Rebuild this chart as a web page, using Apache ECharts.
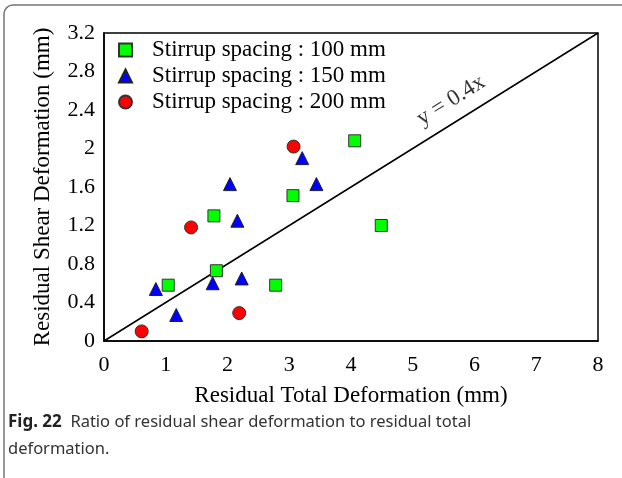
<!doctype html>
<html>
    <head>
        <meta charset="utf-8">
        <title>Residual shear vs total deformation</title>
        <style>
            html, body { margin: 0; padding: 0; background: #fff; }
            #main { width: 622px; height: 478px; }
        </style>
    </head>
    <body>
        <div id="main"></div>
        <script src="https://cdn.jsdelivr.net/npm/echarts@6/dist/echarts.min.js"></script>
        <script>
            var chart = echarts.init(document.getElementById('main'));

            // values: [total, shear] in mm
            var spacing100 = [
                [4.06, 2.08], [3.06, 1.51], [1.78, 1.30], [4.49, 1.20],
                [1.82, 0.73], [1.04, 0.58], [2.78, 0.58]
            ];
            var spacing150 = [
                [3.21, 1.90], [2.04, 1.63], [3.44, 1.63], [2.16, 1.25],
                [2.23, 0.65], [1.76, 0.60], [0.84, 0.54], [1.17, 0.27]
            ];
            var spacing200 = [
                [3.07, 2.02], [1.41, 1.18], [2.19, 0.29], [0.61, 0.10]
            ];
            var seriesNames = [
                'Stirrup spacing : 100 mm',
                'Stirrup spacing : 150 mm',
                'Stirrup spacing : 200 mm'
            ];
            var fitLine = [[0, 0], [8, 3.2]];
            var fitLabelAt = [[5.62, 2.5]];

            var serif = '"Liberation Serif", "DejaVu Serif", serif';
            var sans = '"Noto Sans", "Open Sans", sans-serif';

            chart.setOption({
                animation: false,
                backgroundColor: '#fff',
                grid: {
                    left: 104, top: 33, right: 24, bottom: 137,
                    show: true,
                    borderColor: '#000',
                    borderWidth: 1.5
                },
                legend: {
                    data: seriesNames,
                    orient: 'vertical',
                    left: 113,
                    top: 32,
                    itemWidth: 13,
                    itemHeight: 13,
                    itemGap: 0,
                    textStyle: {
                        fontFamily: serif,
                        fontSize: 23,
                        lineHeight: 26,
                        color: '#000',
                        padding: [0, 0, 0, 15]
                    }
                },
                xAxis: {
                    type: 'value',
                    min: 0, max: 8, interval: 1,
                    name: 'Residual Total Deformation (mm)',
                    nameLocation: 'middle',
                    nameGap: 43,
                    nameTextStyle: { fontFamily: serif, fontSize: 23, color: '#000' },
                    axisLine: { lineStyle: { color: '#000', width: 1.5 } },
                    axisTick: { show: false },
                    splitLine: { show: false },
                    axisLabel: { fontFamily: serif, fontSize: 22, color: '#000', margin: 13 }
                },
                yAxis: {
                    type: 'value',
                    min: 0, max: 3.2, interval: 0.4,
                    name: 'Residual Shear Deformation (mm)',
                    nameLocation: 'middle',
                    nameGap: 50,
                    nameTextStyle: { fontFamily: serif, fontSize: 23, color: '#000' },
                    axisLine: { lineStyle: { color: '#000', width: 1.5 } },
                    axisTick: { show: false },
                    splitLine: { show: false },
                    axisLabel: { fontFamily: serif, fontSize: 22, color: '#000', margin: 9 }
                },
                series: [
                    {
                        type: 'line',
                        data: fitLine,
                        showSymbol: false,
                        silent: true,
                        lineStyle: { color: '#000', width: 1.5 },
                        z: 1
                    },
                    {
                        type: 'scatter',
                        data: fitLabelAt,
                        symbolSize: 1,
                        itemStyle: { color: 'rgba(0,0,0,0)' },
                        silent: true,
                        label: {
                            show: true,
                            position: 'inside',
                            rotate: 32,
                            formatter: '{a|y = 0.4x}',
                            rich: {
                                a: { fontFamily: serif, fontSize: 23, color: '#000' }
                            }
                        },
                        z: 2
                    },
                    {
                        name: seriesNames[0],
                        type: 'scatter',
                        data: spacing100,
                        symbol: 'rect',
                        symbolSize: 12,
                        itemStyle: { color: '#00ff00', borderColor: '#333', borderWidth: 1, opacity: 1 },
                        z: 3
                    },
                    {
                        name: seriesNames[1],
                        type: 'scatter',
                        data: spacing150,
                        symbol: 'triangle',
                        symbolSize: 13,
                        itemStyle: { color: '#0000ff', borderColor: '#222', borderWidth: 1, opacity: 1 },
                        z: 3
                    },
                    {
                        name: seriesNames[2],
                        type: 'scatter',
                        data: spacing200,
                        symbol: 'circle',
                        symbolSize: 13,
                        itemStyle: { color: '#ff0000', borderColor: '#333', borderWidth: 1, opacity: 1 },
                        z: 3
                    }
                ],
                graphic: [
                    {
                        type: 'rect',
                        shape: { x: 4, y: 5, width: 720, height: 500, r: 9 },
                        style: { fill: 'none', stroke: '#777', lineWidth: 1.5 },
                        silent: true
                    },
                    {
                        type: 'text',
                        left: 8,
                        top: 409,
                        style: {
                            text: '{b|Fig. 22}  Ratio of residual shear deformation to residual total\ndeformation.',
                            fontFamily: sans,
                            fontSize: 16.5,
                            lineHeight: 27,
                            fill: '#333',
                            rich: {
                                b: {
                                    fontFamily: sans,
                                    fontSize: 17,
                                    fontWeight: 'bold',
                                    lineHeight: 27,
                                    fill: '#222'
                                }
                            }
                        }
                    }
                ]
            });

            window.addEventListener('resize', function () {
                chart.resize();
            });
        </script>
    </body>
</html>
